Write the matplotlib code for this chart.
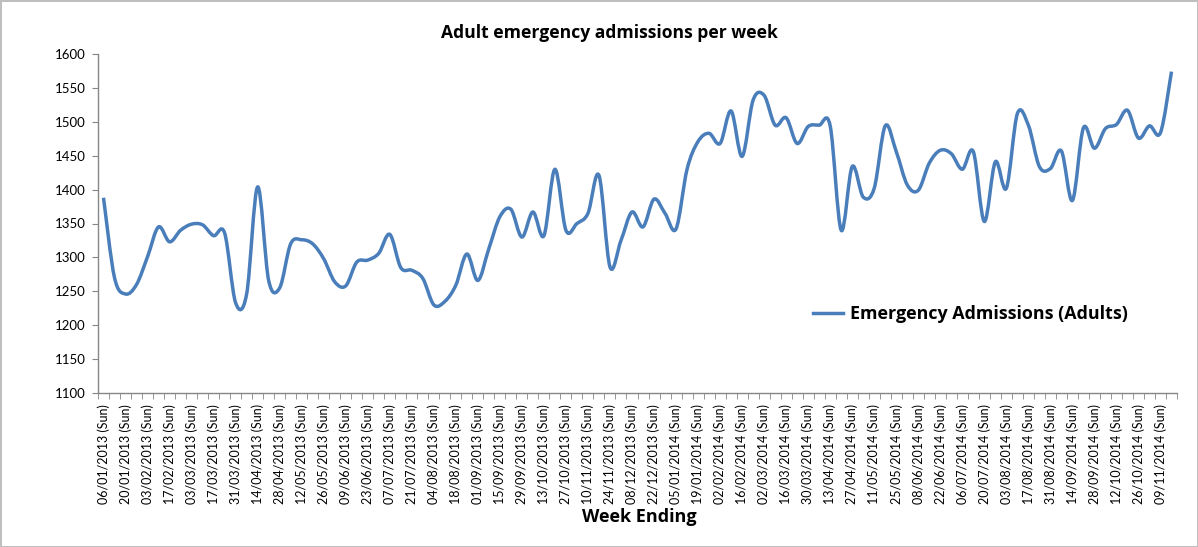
import datetime as dt
import matplotlib
matplotlib.use("Agg")
import matplotlib.pyplot as plt
from matplotlib.path import Path
from matplotlib.patches import PathPatch
from matplotlib.lines import Line2D

plt.rcParams['font.family'] = ['Lato', 'DejaVu Sans']

# weekly adult emergency admissions, week ending Sunday 06/01/2013 onwards
admissions = [
    1388, 1270, 1246, 1260, 1301, 1345, 1323, 1340, 1349, 1348,
    1332, 1336, 1233, 1246, 1404, 1266, 1255, 1320, 1326, 1320,
    1298, 1264, 1258, 1293, 1296, 1306, 1334, 1285, 1281, 1269,
    1230, 1235, 1259, 1305, 1266, 1313, 1360, 1371, 1330, 1367,
    1332, 1430, 1340, 1350, 1365, 1421, 1286, 1325, 1367, 1345,
    1386, 1365, 1342, 1430, 1471, 1483, 1468, 1516, 1449, 1532,
    1539, 1495, 1506, 1468, 1493, 1495, 1494, 1340, 1434, 1389,
    1402, 1494, 1456, 1407, 1399, 1439, 1458, 1453, 1430, 1456,
    1353, 1441, 1402, 1512, 1495, 1434, 1431, 1457, 1384, 1491,
    1461, 1490, 1496, 1517, 1476, 1494, 1484, 1574,
]
start = dt.date(2013, 1, 6)
week_labels = [(start + dt.timedelta(weeks=i)).strftime("%d/%m/%Y") + " (Sun)"
               for i in range(len(admissions))]

blue = "#4A7EBB"
grey = "#868686"
bold_font = {"family": ["Open Sans", "DejaVu Sans"], "weight": "bold"}

fig = plt.figure(figsize=(11.98, 5.47), dpi=100)
fig.patch.set_edgecolor("#BFBFBF")
fig.patch.set_linewidth(1.0)
ax = fig.add_axes([98 / 1198, 1 - 393 / 547, (1177 - 98) / 1198, (393 - 54) / 547])

# smoothed line like Excel's "smoothed line" option (bezier through each point)
xs = list(range(len(admissions)))
n = len(xs)
verts = [(xs[0], admissions[0])]
codes = [Path.MOVETO]
for i in range(n - 1):
    p0 = (xs[max(i - 1, 0)], admissions[max(i - 1, 0)])
    p1 = (xs[i], admissions[i])
    p2 = (xs[i + 1], admissions[i + 1])
    p3 = (xs[min(i + 2, n - 1)], admissions[min(i + 2, n - 1)])
    c1 = (p1[0] + (p2[0] - p0[0]) / 6, p1[1] + (p2[1] - p0[1]) / 6)
    c2 = (p2[0] - (p3[0] - p1[0]) / 6, p2[1] - (p3[1] - p1[1]) / 6)
    verts += [c1, c2, p2]
    codes += [Path.CURVE4] * 3
ax.add_patch(PathPatch(Path(verts, codes), facecolor="none", edgecolor=blue,
                       lw=2.5, capstyle="butt", joinstyle="round"))

ax.set_xlim(-0.5, n - 0.5)
ax.set_ylim(1100, 1600)
ax.set_yticks(range(1100, 1601, 50))
ax.set_xticks(xs[::2])
ax.set_xticklabels(week_labels[::2], rotation=90, fontsize=9)
ax.set_xticks([i - 0.5 for i in range(n + 1)], minor=True)
ax.tick_params(axis="x", which="major", length=0, pad=8)
ax.tick_params(axis="x", which="minor", length=4, color=grey, direction="out")
ax.tick_params(axis="y", length=4, color=grey, labelsize=9.5, pad=5)

for side in ["top", "right"]:
    ax.spines[side].set_visible(False)
for side in ["left", "bottom"]:
    ax.spines[side].set_color(grey)
    ax.spines[side].set_linewidth(1.0)

fig.text(609 / 1198, 1 - 33 / 547, "Adult emergency admissions per week",
         ha="center", va="center", fontsize=12.6, **bold_font)
fig.text(639 / 1198, 1 - 517 / 547, "Week Ending",
         ha="center", va="center", fontsize=13, **bold_font)

handle = Line2D([], [], color=blue, lw=2.5)
ax.legend([handle], ["Emergency Admissions (Adults)"], loc="center left",
          bbox_to_anchor=(0.6476, 0.233), frameon=False, handlelength=1.7,
          handletextpad=0.35, prop={"size": 12.9, **bold_font})

fig.savefig("out.png", dpi=100, edgecolor=fig.get_edgecolor())
